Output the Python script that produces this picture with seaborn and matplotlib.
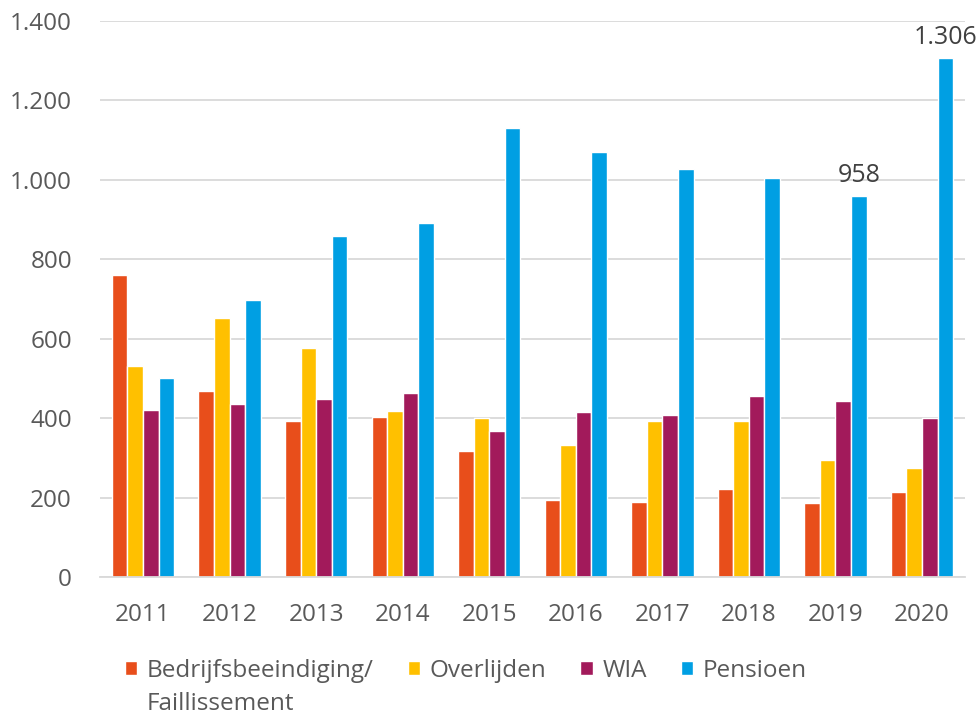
import numpy as np
import pandas as pd
import matplotlib
matplotlib.use("Agg")
import matplotlib.pyplot as plt
import matplotlib.ticker as mticker
import seaborn as sns

years = ["2011", "2012", "2013", "2014", "2015", "2016", "2017", "2018", "2019", "2020"]
bedrijf = [760, 469, 393, 403, 318, 193, 188, 221, 186, 214]
overlijden = [531, 653, 576, 418, 401, 331, 392, 393, 295, 275]
wia = [420, 436, 448, 463, 368, 415, 408, 456, 444, 401]
pensioen = [501, 697, 858, 890, 1130, 1070, 1026, 1003, 958, 1306]
series_names = ["Bedrijfsbeeindiging/\nFaillissement", "Overlijden", "WIA", "Pensioen"]
colors = ["#E84E1B", "#FFC000", "#A21A5B", "#009FE3"]

df = pd.DataFrame({"jaar": years * 4,
                   "reden": np.repeat(series_names, len(years)),
                   "aantal": bedrijf + overlijden + wia + pensioen})

sns.set_style("white")
plt.rcParams['font.family'] = ['Open Sans', 'DejaVu Sans']
txt = "#595959"
fs = 17.5

fig = plt.figure(figsize=(9.78, 7.15), dpi=100)
ax = fig.add_axes([0.102, 0.193, 0.885, 0.778])

sns.barplot(data=df, x="jaar", y="aantal", hue="reden", palette=colors,
            width=0.72, gap=0, saturation=1, ax=ax, legend=True)

ax.set_ylim(0, 1400)
ax.set_yticks(range(0, 1401, 200))
ax.yaxis.set_major_formatter(mticker.FuncFormatter(lambda v, p: f"{int(v):,}".replace(",", ".")))
ax.grid(axis="y", color="#d9d9d9", linewidth=1.3)
ax.set_axisbelow(True)
for s in ["top", "right", "left"]:
    ax.spines[s].set_visible(False)
ax.spines["bottom"].set_color("#d9d9d9")
ax.spines["bottom"].set_linewidth(1.3)
ax.set_xlabel("")
ax.set_ylabel("")
ax.tick_params(axis="both", length=0, labelsize=fs, colors=txt)
ax.tick_params(axis="y", pad=20)
ax.tick_params(axis="x", pad=19)

labels = [""] * 8 + ["958", "1.306"]
ax.bar_label(ax.containers[3], labels=labels, padding=6, fontsize=18, color="#404040")

# legend: first line of the long name in the row, second line underneath
handles, lbls = ax.get_legend_handles_labels()
first_lines = [l.split("\n")[0] for l in lbls]
leg = ax.legend(handles, first_lines, loc="upper left", bbox_to_anchor=(125 / 978, 1 - 659 / 715),
                bbox_transform=fig.transFigure, ncol=4, frameon=False, fontsize=fs,
                labelcolor=txt, handlelength=0.5, handleheight=0.5, handletextpad=0.4,
                columnspacing=1.4, borderpad=0, borderaxespad=0)

fig.canvas.draw()
bb = leg.get_texts()[0].get_window_extent().transformed(fig.transFigure.inverted())
fig.text(bb.x0, bb.y0 - 0.013, lbls[0].split("\n")[1], fontsize=fs, color=txt, va="top", ha="left")

plt.savefig("out.png", dpi=100)
